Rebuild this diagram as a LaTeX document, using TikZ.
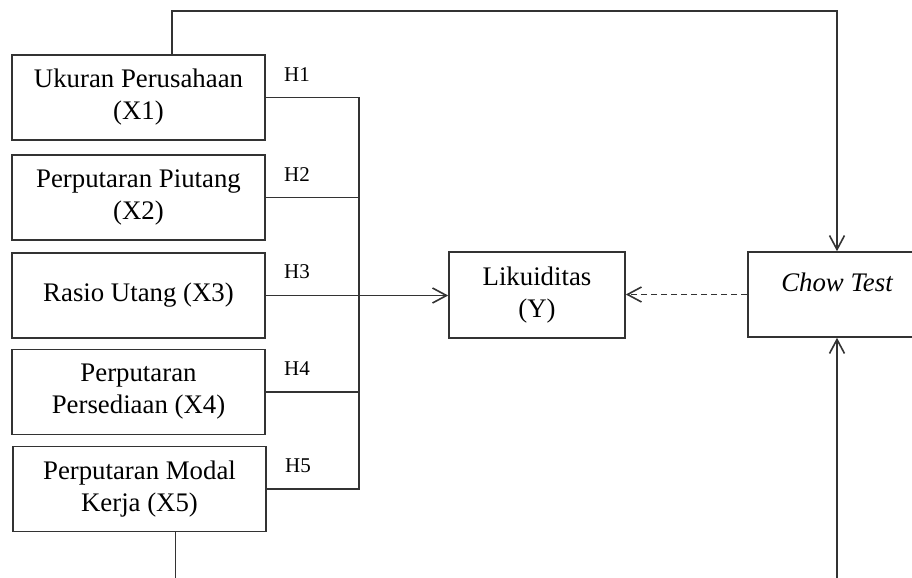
\documentclass[tikz,border=0pt]{standalone}
\usepackage{fontspec}
\setmainfont{Liberation Serif}
\usetikzlibrary{positioning,arrows.meta}

\tikzset{
  box/.style={draw=black!80, line width=0.8pt, rectangle, align=center,
    minimum width=126.5pt, minimum height=42.5pt, inner sep=0pt,
    font=\fontsize{13.4}{16}\selectfont},
  hlab/.style={inner sep=0pt, font=\fontsize{10.5}{12}\selectfont},
  link/.style={draw=black!80, line width=0.8pt},
  >={Straight Barb[length=7pt,width=7.5pt]}
}

\begin{document}
\begin{tikzpicture}[x=0.5pt, y=-0.5pt]
\useasboundingbox (0,0) rectangle (912,578);
% independent variables
\node[box] (x1) at (138.5,97.5) {Ukuran Perusahaan\\(X1)};
\node[box] (x2) at (138.5,197.5) {Perputaran Piutang\\(X2)};
\node[box] (x3) at (138.5,295.5) {Rasio Utang (X3)};
\node[box] (x4) at (138.5,392) {Perputaran\\Persediaan (X4)};
\node[box] (x5) at (139.5,489) {Perputaran Modal\\Kerja (X5)};
% dependent variable and test
\node[box, minimum width=88pt, minimum height=43pt] (y) at (537,295) {Likuiditas\\(Y)};
\node[box, minimum width=89pt] (chow) at (837,294.5) {};
\node[font=\fontsize{13.4}{16}\selectfont\itshape] (ct) at ([yshift=6pt]chow.center) {Chow Test};
% hypothesis labels
\node[hlab, above right=8pt and 9pt of x1.east] (h1) {H1};
\node[hlab, above right=8pt and 9pt of x2.east] (h2) {H2};
\node[hlab, above right=8pt and 9pt of x3.east] (h3) {H3};
\node[hlab, above right=8pt and 9pt of x4.east] (h4) {H4};
\node[hlab, above right=8pt and 9pt of x5.east] (h5) {H5};
% bus line
\coordinate[right=46.5pt of x1.east] (bt);
\draw[link] (x1.east) -- (bt) |- (x5.east);
\draw[link] (x2.east) -- (x2.east -| bt);
\draw[link] (x4.east) -- (x4.east -| bt);
\draw[link, ->] (x3.east) -- (x3.east -| y.west);
\draw[link, ->, dash pattern=on 3pt off 2pt] (chow.west) -- (chow.west -| y.east);
% outer loop
\draw[link, ->] ([xshift=16.75pt]x1.north) -- ++(0,-43) -| (chow.north);
\coordinate (b5) at ([xshift=18pt]x5.south |- 0,580);
\draw[link] ([xshift=18pt]x5.south) -- (b5);
\draw[link, ->] (chow.south |- b5) -- (chow.south);
\end{tikzpicture}
\end{document}
